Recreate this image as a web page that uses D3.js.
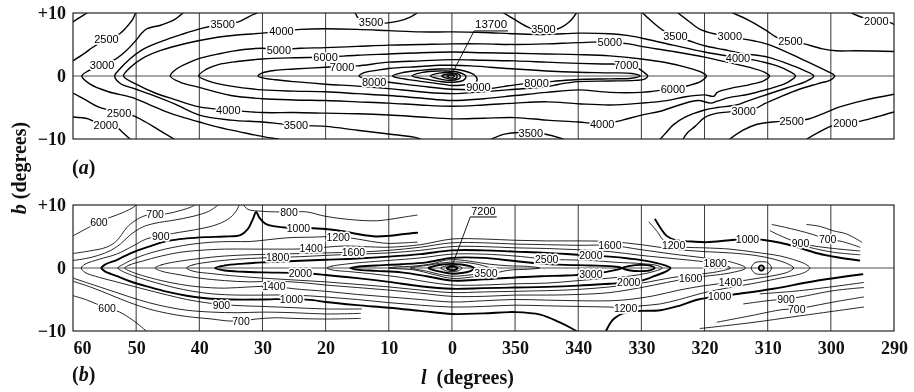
<!DOCTYPE html>
<html>
<head>
<meta charset="utf-8">
<script src="https://cdn.jsdelivr.net/npm/d3@7"></script>
<style>
  body { margin: 0; background: #fff; }
  svg { display: block; background: #fff; filter: grayscale(100%); }
  .axis text { font-family: "Liberation Serif", "DejaVu Serif", serif; font-weight: bold; font-size: 18px; fill: #111; }
  .clabel { font-family: "Liberation Sans", Arial, sans-serif; fill: #000; }
  .halo { font-family: "Liberation Sans", Arial, sans-serif; fill: #fff; stroke: #fff; stroke-width: 3.5px; stroke-linejoin: round; }
  .title { font-family: "Liberation Serif", "DejaVu Serif", serif; font-weight: bold; font-size: 20px; fill: #111; }
</style>
</head>
<body>
<svg id="chart" width="914" height="392"></svg>
<script>
const lonTicks = [60, 50, 40, 30, 20, 10, 0, 350, 340, 330, 320, 310, 300, 290];
const latTicks = [10, 0, -10];

// contour lines as [l, b] in degrees; longitudes past 0 are written as l - 360 (350 -> -10)
// (a) continuum brightness
const contoursA = [
  { level: 2000, pts: [[60,8.6],[58.9,9.3],[57.8,10]] },
  { level: 2000, pts: [[60,-6.5],[57.6,-6.8],[56.5,-7.3],[54.8,-7.8],[53,-8.2],[52.3,-8.8],[51.2,-9.8],[51,-10]] },
  { level: 2000, pts: [[-63.3,10],[-65,9.3],[-67.2,8.8],[-69.3,8.5],[-70,8.2]] },
  { level: 2000, pts: [[-56.2,-10],[-58.7,-8.6],[-60.5,-7.8],[-62.3,-7.5],[-64.5,-7.2],[-67.2,-6.5],[-70,-5.7]] },
  { level: 2500, pts: [[60,2.4],[58.3,3.5],[56.8,4.6],[54.7,5.8],[52.6,6.7],[51.5,7.8],[50.6,8.9],[50.1,10]] },
  { level: 2500, pts: [[60,-2.7],[58,-3.8],[56,-4.9],[52.7,-5.8],[50.5,-6.3],[48.5,-7.3],[46.5,-8.5],[44,-10]] },
  { level: 2500, pts: [[-44.5,10],[-47.1,8.8],[-49.8,7.2],[-51.5,6.1],[-53.6,5.6],[-55.8,5.1],[-58.7,4.3],[-60.8,4.0],[-64,4.0],[-70,3.9]] },
  { level: 2500, pts: [[-44,-10],[-46.1,-8.6],[-48.2,-7.7],[-50.8,-7.3],[-53.8,-7.1],[-56.1,-6.9],[-58.7,-6.0],[-61.4,-4.9],[-65.1,-3.9],[-70,-2.9]] },
  { level: 3000, pts: [[42.6,10],[44,8.9],[46,8.1],[48.3,7.5],[49.2,6.7],[50,5.7],[51.5,4.1],[53.4,2.6],[55.4,1.8],[57.6,0.8],[58.6,0],[57.3,-1.3],[54.4,-2.5],[50.7,-3.4],[48,-4.5],[45.4,-5.6],[42.8,-6.5],[40,-7.3],[37.5,-8.0],[34.9,-8.6],[32,-9.2],[29.5,-9.7],[27.5,-10]] },
  { level: 3000, pts: [[-35.8,10],[-37.5,8.7],[-39.3,7.4],[-41.5,6.7],[-44,6.3],[-46.1,5.9],[-49.8,5.1],[-53,3.8],[-56,2.4],[-58.5,1.2],[-60.3,0.3],[-60.6,0],[-60,-0.6],[-58,-1.2],[-55,-2.1],[-52,-3.3],[-49.5,-4.4],[-48,-5.2],[-46.2,-5.6],[-44,-5.7],[-42,-5.9],[-40,-6.6],[-38.5,-8.0],[-37.3,-9.0],[-36.6,-10]] },
  { level: 3500, pts: [[30.9,10],[32.2,9.4],[33.8,8.6],[36.3,8.3],[39.5,7.6],[42.8,6.6],[46,5.5],[49,4.2],[51,2.7],[52.6,1.1],[53.4,0],[52.5,-1.2],[50,-2.1],[47,-3.2],[44,-4.4],[40,-6.2],[35,-7.0],[30,-7.3],[27,-7.6],[24.7,-7.8],[20,-8.0],[15,-8.6],[10,-9.2],[6,-9.7],[5,-10]] },
  { level: 3500, pts: [[15.3,10],[14.8,9.2],[12.8,8.6],[10.5,8.4],[8.5,8.7],[6.5,9.4],[5.5,10]] },
  { level: 3500, pts: [[-8.2,10],[-9.7,9.1],[-12.4,7.6],[-14.5,7.4],[-16.8,7.5],[-18.6,8.6],[-19.7,10]] },
  { level: 3500, pts: [[-6.3,-10],[-8,-9.3],[-10,-9.0],[-12.5,-9.0],[-14.7,-9.2],[-17.6,-10]] },
  { level: 3500, pts: [[-30.2,10],[-31.5,8.8],[-33.5,7.2],[-35.4,6.3],[-37.5,5.6],[-40,4.8],[-43,4.2],[-46,3.6],[-50,3.0],[-53,2.0],[-55.5,1.0],[-57.3,0],[-56,-0.9],[-53,-1.9],[-50,-2.9],[-47,-3.9],[-45,-4.6],[-42,-5.0],[-40,-5.4],[-37,-6.5],[-35,-7.8],[-34,-8.9],[-33,-10]] },
  { level: 4000, pts: [[52,0],[51,1.3],[49,2.8],[46,4.1],[42,5.2],[38,6.0],[34,6.5],[30,6.8],[27,7.1],[24,7.4],[20,7.5],[15,7.4],[10,7.2],[5,7.0],[0,7.0],[-5,6.9],[-10,6.7],[-15,6.6],[-20,6.8],[-25,6.7],[-28,6.4],[-31,5.8],[-35,4.9],[-40,3.8],[-45.3,2.9],[-48.5,2.4],[-51.5,1.6],[-53.5,0.7],[-54.4,0],[-53.5,-0.8],[-52,-1.5],[-50,-2.1],[-47,-2.9],[-44,-3.4],[-42,-4.0],[-41,-4.3],[-39,-3.9],[-36,-4.6],[-33,-5.6],[-30,-6.2],[-27,-7.0],[-23.8,-7.6],[-20,-7.3],[-15,-7.0],[-10,-6.6],[-5,-6.7],[0,-6.8],[5,-6.5],[10,-6.2],[15,-6.0],[20,-5.9],[25,-5.8],[30,-5.8],[35.4,-5.4],[40,-4.9],[44,-3.7],[47,-2.7],[50,-1.3],[52,0]] },
  { level: 5000, pts: [[44.6,0],[43.5,1.2],[41.5,2.2],[40,2.8],[37,3.5],[33,4.2],[30,4.4],[27.4,4.2],[24,4.4],[20,4.5],[15,4.7],[10,4.9],[5,5.0],[0,5.1],[-5,5.1],[-10,5.0],[-15,5.1],[-20,5.3],[-25,5.4],[-28,5.1],[-30,4.7],[-35,3.9],[-40,3.0],[-44,2.1],[-47,1.4],[-49.5,0.6],[-50.3,0],[-49.5,-0.7],[-47,-1.4],[-44,-2.0],[-42,-2.6],[-41.5,-3.2],[-40,-3.0],[-37,-3.3],[-34,-3.9],[-30,-4.3],[-25,-4.6],[-20,-4.4],[-15,-4.1],[-10,-4.3],[-5,-4.6],[0,-4.8],[5,-4.6],[10,-4.3],[15,-4.1],[20,-3.9],[25,-3.8],[30,-3.6],[35,-3.1],[40,-1.8],[43,-1.0],[44.6,0]] },
  { level: 6000, pts: [[40.1,0],[39,1.0],[37,1.8],[34,2.3],[30,2.7],[25,2.9],[20,3.0],[15,3.3],[10,3.5],[5,3.7],[0,3.8],[-5,3.7],[-10,3.6],[-15,3.5],[-20,3.4],[-25,3.2],[-30,2.7],[-34,2.1],[-37,1.4],[-39.5,0.6],[-40.3,0],[-39.5,-0.8],[-37.5,-1.5],[-35,-2.0],[-32,-2.4],[-30,-2.6],[-25,-2.6],[-20,-2.2],[-15,-2.6],[-10,-3.1],[-5,-3.6],[0,-3.9],[5,-3.5],[10,-3.1],[15,-2.8],[20,-2.5],[25,-2.4],[30,-2.2],[35,-1.6],[38.5,-0.8],[40.1,0]] },
  { level: 7000, pts: [[30.7,0],[30,0.5],[28,0.9],[25,1.1],[20,1.4],[17.4,1.5],[15,1.6],[10,2.2],[5,2.4],[0,2.6],[-5,2.5],[-10,2.4],[-15,2.2],[-20,2.0],[-24,1.9],[-27.6,1.8],[-29.5,1.2],[-30.5,0.5],[-31,0],[-30.5,-0.5],[-29,-0.7],[-25,-0.8],[-20,-0.9],[-17,-1.3],[-15,-1.7],[-10,-2.1],[-5,-2.5],[0,-2.8],[5,-2.5],[10,-2.0],[15,-1.6],[20,-1.3],[25,-0.9],[28,-0.6],[30,-0.3],[30.7,0]] },
  { level: 8000, pts: [[14.7,0],[14,0.5],[12,0.9],[10,1.2],[5,1.5],[2,1.7],[0,1.7],[-3,1.6],[-6,1.4],[-10,1.1],[-15,0.8],[-20,0.6],[-25,0.5],[-28.5,0.4],[-29.8,0],[-28.5,-0.35],[-25,-0.45],[-20,-0.55],[-16,-0.85],[-13.4,-1.05],[-10,-1.4],[-5,-2.1],[0,-2.1],[5,-1.6],[10,-1.0],[12.3,-0.8],[14,-0.4],[14.7,0]] },
  { level: 9000, pts: [[9.4,0],[8,0.5],[5,0.9],[2,1.1],[0,1.1],[-2,0.8],[-3.5,0.2],[-4,-0.5],[-3.5,-1.2],[-2,-1.4],[0,-1.5],[3,-1.1],[6,-0.7],[8.5,-0.3],[9.4,0]] },
  { level: 10000, pts: [[6.3,0],[5,0.5],[3,0.75],[1,0.8],[-1,0.6],[-2.2,0],[-1.8,-0.7],[0,-1.0],[2,-0.85],[4,-0.5],[6.3,0]] },
  { level: 11000, pts: [[3.4,0],[2,0.45],[0,0.5],[-1.2,0.2],[-1.3,-0.3],[0,-0.7],[2,-0.45],[3.4,0]] },
  { level: 12000, pts: [[1.6,0],[0.5,0.32],[-0.7,0.2],[-0.8,-0.25],[0,-0.5],[1,-0.3],[1.6,0]] },
  { level: 13000, pts: [[0.8,-0.05],[0.1,0.15],[-0.4,0],[0,-0.3],[0.8,-0.05]] }
];
const labelsA = [
  ["2500",54.7,5.8],["3000",55.4,1.8],["2500",52.7,-5.8],["2000",54.8,-7.8],
  ["3500",36.3,8.3],["4000",27,7.1],["5000",27.4,4.2],["6000",20,3.0],["7000",17.4,1.5],
  ["4000",35.4,-5.4],["3500",24.7,-7.8],["8000",12.3,-0.9],["3500",12.8,8.6],
  ["9000",-4.2,-1.7],["8000",-13.4,-1.05],["3500",-14.5,7.4],["3500",-12.5,-9.1],
  ["5000",-25,5.4],["7000",-27.6,1.8],["6000",-35,-2.0],["4000",-23.8,-7.6],
  ["3500",-35.4,6.3],["3000",-44,6.3],["4000",-45.3,2.9],["3000",-46.2,-5.6],
  ["2500",-53.6,5.6],["2500",-53.8,-7.1],["2000",-67.2,8.8],["2000",-62.3,-7.5]
];
const peakA = ["13700", -6.2, 8.2];

// (b) line brightness
const contoursB = [
  { level: 600, pts: [[60,5.1],[57.6,6.4],[55.9,7.3],[54.2,8.0],[52.1,8.8],[50.5,9.6],[50,10]] },
  { level: 600, pts: [[60,-4.4],[58,-5.0],[56.3,-5.7],[54.6,-6.3],[52.6,-7.0],[50.5,-8.3],[48.4,-10]] },
  { level: 700, pts: [[60,2.3],[57.4,2.7],[54.7,3.3],[53.1,4.3],[51.5,6.4],[50.2,7.5],[48.6,8.3],[47,8.5],[45.2,8.6],[43.1,9.1],[41.5,9.6],[40.7,10]] },
  { level: 700, pts: [[60,-2.1],[57,-3.1],[54,-4.3],[51,-5.5],[48,-6.5],[45,-7.2],[42,-7.7],[38,-8.1],[35.5,-8.4],[33.4,-8.4],[31,-8.1],[28,-7.9],[25,-8.0],[20,-8.1],[14.5,-8.0]] },
  { level: 800, pts: [[60,1.2],[58,1.5],[56,2.0],[54,2.8],[52.5,3.8],[51,5.2],[49,6.5],[47,7.1],[44,7.6],[41,8.2],[38.5,9.0],[37,10]] },
  { level: 800, pts: [[60,-1.6],[57,-2.6],[54,-3.6],[51,-4.6],[48,-5.5],[45,-6.2],[42,-6.7],[38,-7.0],[34,-7.1],[30,-7.0],[25,-7.1],[20,-7.3],[14.5,-7.2]] },
  { level: 800, pts: [[33,10],[32.3,9.3],[30,9.0],[27.5,8.9],[25.8,8.9],[23,8.9],[20,8.2],[15.1,7.6],[11.9,7.5],[10,7.7],[7.5,8.1],[5.5,8.4]] },
  { level: 900, pts: [[33.7,10],[34,9.3],[35.1,8.0],[37.2,6.9],[40,6.2],[44.1,5.5],[46.1,5.1],[48.4,4.6],[50.5,3.5],[53.1,2.2],[55.8,1.4],[58.1,0.6],[58.7,0],[58.1,-0.7],[55.8,-1.5],[53.1,-2.2],[50.5,-2.9],[47.8,-3.6],[45,-4.3],[42,-5.0],[39,-5.5],[36.5,-5.8],[33,-6.0],[30,-6.1],[25,-6.3],[20,-6.5],[14.3,-6.5]] },
  { level: 1000, pts: [[5.5,5.6],[7.5,5.4],[10,5.1],[12,5.0],[15,5.4],[17,5.8],[20,6.2],[22,6.3],[24.3,6.4],[26,6.4],[28,6.6],[29.5,7.0],[30.5,8.0],[31,8.9],[31.5,7.8],[32.3,6.2],[33.5,5.2],[36,5.0],[39,4.9],[42,4.7],[45,4.3],[48,3.4],[51,2.3],[53,1.3],[55,0.5],[55.5,0],[55,-0.5],[53,-1.3],[51,-2.1],[48,-3.0],[45,-3.8],[42,-4.4],[39,-4.8],[35,-5.0],[30,-5.0],[25.4,-4.9],[22,-5.1],[20,-5.4],[15,-5.9],[10,-6.3],[5,-6.8],[0,-7.3],[-5,-7.2],[-10,-7.0],[-14,-7.4],[-17,-8.6],[-19,-9.6],[-19.7,-10]] },
  { level: 1000, pts: [[-32.2,7.7],[-33,6.4],[-34,5.1],[-35.5,4.4],[-38,4.2],[-40.4,4.1],[-44,4.4],[-46.8,4.6],[-49,4.5],[-52,4.0],[-55,3.2],[-58,2.3],[-61,1.7],[-64.5,1.2]] },
  { level: 1000, pts: [[-24.4,-10],[-25.6,-8.1],[-27.7,-7.0],[-30,-6.8],[-33,-6.7],[-36,-6.0],[-39,-5.0],[-42.4,-4.5],[-44.6,-4.2],[-50.9,-3.3],[-57.3,-2.1],[-65,-1.0]] },
  { level: 1200, pts: [[5.5,4.1],[7.5,4.0],[10,3.9],[12,4.1],[15,4.6],[18,5.0],[22,4.9],[26,4.8],[29,4.5],[32,4.2],[35,4.2],[38,4.1],[41,3.8],[44,3.3],[47,2.6],[50,1.6],[52,0.6],[52.9,0],[52,-0.6],[50,-1.4],[47,-2.3],[44,-3.1],[41,-3.7],[38,-4.1],[34,-4.3],[30,-4.3],[25,-4.3],[20,-4.6],[15,-5.0],[10,-5.5],[5,-5.9],[0,-6.2],[-5,-6.1],[-10,-5.9],[-15,-6.0],[-20,-6.1],[-25,-6.2],[-27.5,-6.3],[-30,-6.0],[-33,-5.7],[-36,-5.0],[-40,-3.9],[-44,-3.1],[-48,-2.4],[-52,-1.6],[-55,-1.0],[-56.2,-0.5],[-56.7,0],[-56,0.6],[-54.5,1.2],[-52,1.9],[-48,2.5],[-44,3.0],[-40,3.2],[-37,3.3],[-35,3.6],[-33.5,4.4],[-32.5,5.8],[-31.2,7.3]] },
  { level: 1400, pts: [[51.8,0],[51,0.5],[49,1.1],[46,1.9],[43,2.5],[40,2.8],[36,3.0],[32,3.0],[28,3.0],[25,3.0],[22.3,3.1],[20,3.3],[17,3.5],[14,3.4],[10,3.3],[5,3.7],[0,4.6],[-5,4.6],[-10,4.4],[-15,4.3],[-20,4.3],[-25,4.2],[-30,3.7],[-35,3.0],[-40,2.6],[-44,2.4],[-48,2.0],[-51,1.4],[-53.3,0.6],[-54.1,0],[-53.3,-0.6],[-51,-1.2],[-48,-1.7],[-44.1,-2.3],[-40,-2.8],[-36,-3.5],[-32,-4.4],[-28,-5.0],[-25,-5.2],[-20,-5.2],[-15,-5.1],[-10,-5.0],[-5,-5.2],[0,-5.4],[5,-5.0],[10,-4.6],[15,-4.2],[20,-3.7],[25,-3.3],[28.2,-2.9],[32,-3.0],[36,-3.2],[40,-3.0],[43,-2.6],[46,-2.0],[49,-1.2],[51,-0.5],[51.8,0]] },
  { level: 1600, pts: [[47,0],[46,0.5],[43,1.1],[40,1.5],[36,1.9],[32,2.1],[28,2.2],[24,2.3],[20,2.4],[15.6,2.5],[10,2.8],[5,3.3],[0,4.0],[-5,4.0],[-10,3.8],[-15,3.7],[-20,3.6],[-25,3.6],[-30,2.9],[-35,2.2],[-40,1.6],[-44,1.0],[-46.5,0],[-44,-0.8],[-41,-1.2],[-37.8,-1.6],[-34,-2.3],[-30,-3.1],[-25,-3.9],[-20,-4.2],[-15,-4.3],[-10,-4.3],[-5,-4.5],[0,-4.5],[5,-4.0],[10,-3.5],[15,-3.1],[20,-2.7],[24,-2.3],[28,-2.1],[32,-2.2],[36,-2.0],[40,-1.6],[43,-1.1],[46,-0.5],[47,0]] },
  { level: 1800, pts: [[42,0],[41,0.5],[38,1.0],[34,1.4],[30,1.6],[27.6,1.7],[24,1.8],[20,2.0],[15,2.2],[10,2.4],[5,2.8],[0,3.4],[-5,3.4],[-10,3.2],[-15,3.1],[-20,2.9],[-25,2.6],[-30,2.0],[-35,1.5],[-39,1.1],[-41.7,0.75],[-43.5,0.35],[-44.1,0],[-42,-0.6],[-39,-1.0],[-35,-1.5],[-30,-2.4],[-25,-3.0],[-20,-3.4],[-15,-3.6],[-10,-3.7],[-5,-3.8],[0,-3.9],[5,-3.5],[10,-3.0],[15,-2.6],[20,-2.2],[25,-1.9],[30,-1.6],[34,-1.3],[38,-0.9],[41,-0.5],[42,0]] },
  { level: 2000, pts: [[37.5,0],[36,0.4],[33,0.7],[30,0.9],[25,1.1],[20,1.3],[15,1.5],[10,1.8],[5,2.2],[0,2.8],[-5,2.8],[-10,2.6],[-15,2.4],[-20,2.1],[-22,2.0],[-25,1.8],[-28,1.5],[-31,1.1],[-33.5,0.5],[-34.6,0],[-34,-0.5],[-32,-1.3],[-30,-2.0],[-28,-2.3],[-25,-2.5],[-20,-2.8],[-15,-3.0],[-10,-3.1],[-5,-3.2],[0,-3.3],[5,-2.9],[10,-2.2],[15,-1.6],[20,-1.1],[24,-0.8],[30,-0.7],[33,-0.6],[36,-0.4],[37.5,0]] },
  { level: 2500, pts: [[19.8,0],[19,0.3],[17,0.6],[14,0.9],[10,1.2],[5,1.6],[0,2.2],[-5,2.2],[-10,1.9],[-13,1.6],[-15,1.4],[-18,1.3],[-22,1.2],[-26,0.9],[-30,0.7],[-32.5,0.4],[-33.3,0],[-31,-0.8],[-28,-1.3],[-25,-1.6],[-20,-2.0],[-15,-2.4],[-10,-2.5],[-5,-2.7],[0,-2.7],[4,-2.2],[8,-1.5],[12,-1.0],[16,-0.6],[19,-0.3],[19.8,0]] },
  { level: 3000, pts: [[16.1,0],[15,0.2],[12,0.4],[8,0.6],[4,0.9],[0,1.6],[-5,1.6],[-10,1.1],[-14,0.7],[-18,0.5],[-22,0.4],[-26,0.2],[-27,0],[-26,-0.3],[-22,-1.0],[-18,-1.2],[-14,-1.3],[-10,-1.5],[-5,-1.8],[0,-2.0],[4,-1.3],[8,-0.7],[12,-0.45],[15,-0.25],[16.1,0]] },
  { level: 3000, pts: [[-27,0],[-28,0.3],[-30,0.5],[-31.5,0.35],[-32.1,0],[-31.5,-0.35],[-30,-0.5],[-28,-0.35],[-27,0]] },
  { level: 3500, pts: [[10,0],[9,0.15],[6,0.3],[3,0.7],[1,1.25],[-1,1.3],[-3,1.05],[-6,0.6],[-9,0.35],[-12,0.25],[-13.9,0],[-12,-0.2],[-9,-0.35],[-6,-1.0],[-3,-1.45],[0,-1.65],[3,-1.0],[6,-0.3],[9,-0.1],[10,0]] },
  { level: 4000, pts: [[6.6,0],[6,0.15],[4,0.4],[2,0.75],[0,0.95],[-2,0.9],[-4,0.6],[-5.5,0.2],[-6,0],[-5.5,-0.4],[-4,-0.9],[-2,-1.2],[0,-1.3],[2,-1.0],[4,-0.5],[6,-0.15],[6.6,0]] },
  { level: 5000, pts: [[3.7,0],[3,0.25],[1.5,0.55],[0,0.65],[-1.5,0.55],[-3,0.25],[-3.5,0],[-3,-0.45],[-1.5,-0.8],[0,-0.9],[1.5,-0.65],[3,-0.3],[3.7,0]] },
  { level: 6000, pts: [[1.8,0],[1,0.3],[0,0.4],[-1,0.3],[-1.6,0],[-1,-0.45],[0,-0.6],[1,-0.4],[1.8,0]] },
  { level: 7000, pts: [[0.8,0],[0.3,0.2],[-0.5,0.18],[-0.9,0],[-0.5,-0.3],[0.3,-0.3],[0.8,0]] },
  // source near l = 311
  { level: 2000, pts: [[-48.6,0],[-48.8,0.35],[-49.2,0.35],[-49.4,0],[-49.2,-0.35],[-48.8,-0.35],[-48.6,0]] },
  { level: 1800, pts: [[-47.4,0],[-48,0.85],[-49,1.0],[-50,0.85],[-50.6,0],[-50,-0.85],[-49,-1.0],[-48,-0.85],[-47.4,0]] },
  // open lines on the south-galactic side
  { level: 600, pts: [[-56.2,6.9],[-58.3,6.6],[-60.4,5.9],[-62.5,5.4],[-64.9,4.1]] },
  { level: 700, pts: [[-50.7,6.9],[-53,6.4],[-56.2,5.6],[-59.5,4.6],[-61.8,4.2],[-64.6,3.3]] },
  { level: 900, pts: [[-50.4,5.9],[-52.5,4.9],[-55.2,3.9],[-57.3,3.5],[-60.4,3.1],[-64.6,2.7]] },
  { level: 800, pts: [[-54,4.0],[-56.5,3.3],[-60.4,2.5],[-64.6,2.1]] },
  { level: 600, pts: [[-39.3,-9.6],[-47.2,-8.7],[-55.1,-7.6],[-65.2,-6.2]] },
  { level: 700, pts: [[-42,-8.6],[-47.2,-7.6],[-52.4,-6.6],[-54.6,-6.5],[-57.3,-6.0],[-61,-5.3],[-65.2,-4.6]] },
  { level: 900, pts: [[-46.2,-5.7],[-49.9,-5.2],[-52.9,-4.9],[-55.1,-4.6],[-60.4,-3.6],[-65.2,-3.1]] },
  { level: 800, pts: [[-48.8,-4.1],[-55.1,-3.6],[-65.2,-2.3]] }
];
const labelsB = [
  ["600",55.9,7.3],["700",47,8.5],["900",46.1,5.1],["800",25.8,8.9],["1000",24.3,6.4],
  ["1200",18,5.0],["1400",22.3,3.1],["1600",15.6,2.5],["1800",27.6,1.7],["2000",24,-0.8],
  ["1400",28.2,-2.9],["1000",25.4,-4.9],["900",36.5,-5.8],["700",33.4,-8.4],["600",54.6,-6.3],
  ["3500",-5.4,-0.8],["2500",-15,1.4],["2000",-22,2.0],["1600",-25,3.6],["3000",-22,-1.0],
  ["2000",-28,-2.3],["1200",-27.5,-6.3],["1200",-35.1,3.6],["1800",-41.7,0.75],["1600",-37.8,-1.6],
  ["1400",-44.1,-2.3],["1000",-42.4,-4.5],["1000",-46.8,4.6],["900",-55.2,3.9],["700",-59.5,4.6],
  ["900",-52.9,-4.9],["700",-54.6,-6.5]
];
const peakB = ["7200", -5.0, 9.1];
const thickB = [1000, 2000, 3000, 5000, 7000];

const svg = d3.select("#chart");
const x = d3.scaleLinear().domain([60, -70]).range([73, 894]);
const cont = l => (l > 180 ? l - 360 : l);
const fmtLat = d => d > 0 ? "+" + d : d < 0 ? "\u2212" + Math.abs(d) : "0";

function drawPanel(top, bottom, contours, labels, peak, widthOf, fontSize, id) {
  const y = d3.scaleLinear().domain([-10, 10]).range([bottom, top]);
  const g = svg.append("g");
  const x0 = x(60), x1 = x(-70);

  g.append("clipPath").attr("id", id)
    .append("rect").attr("x", x0).attr("y", top).attr("width", x1 - x0).attr("height", bottom - top);

  // grid: every 10 degrees of longitude and the galactic plane
  g.append("g").selectAll("line").data(lonTicks.slice(1, -1)).join("line")
    .attr("x1", d => x(cont(d))).attr("x2", d => x(cont(d)))
    .attr("y1", top).attr("y2", bottom)
    .attr("stroke", "#222").attr("stroke-width", 0.9);
  g.append("line").attr("x1", x0).attr("x2", x1).attr("y1", y(0)).attr("y2", y(0))
    .attr("stroke", "#222").attr("stroke-width", 0.8);

  const open = d3.line().x(d => x(d[0])).y(d => y(d[1])).curve(d3.curveCatmullRom.alpha(0.5));
  const shut = d3.line().x(d => x(d[0])).y(d => y(d[1])).curve(d3.curveCatmullRomClosed.alpha(0.5));

  g.append("g").attr("clip-path", `url(#${id})`)
    .selectAll("path").data(contours).join("path")
    .attr("d", c => {
      const p = c.pts, n = p.length;
      const closed = n > 2 && p[0][0] === p[n - 1][0] && p[0][1] === p[n - 1][1];
      return closed ? shut(p.slice(0, -1)) : open(p);
    })
    .attr("fill", "none").attr("stroke", "#000")
    .attr("stroke-width", c => widthOf(c.level))
    .attr("stroke-linejoin", "round").attr("stroke-linecap", "round");

  // peak value, underlined, with a leader to the centre
  const pt = g.append("text").attr("class", "clabel")
    .attr("x", x(peak[1])).attr("y", y(peak[2]))
    .attr("text-anchor", "middle").attr("dominant-baseline", "central")
    .attr("font-size", fontSize + 0.5).text(peak[0]);
  const w = pt.node().getComputedTextLength();
  const uy = y(peak[2]) + fontSize * 0.6;
  g.append("line").attr("x1", x(peak[1]) - w / 2 - 1).attr("x2", x(peak[1]) + w / 2 + 1)
    .attr("y1", uy).attr("y2", uy).attr("stroke", "#000").attr("stroke-width", 1);
  g.append("line").attr("x1", x(peak[1]) - w / 2 - 1).attr("y1", uy)
    .attr("x2", x(0)).attr("y2", y(0.3)).attr("stroke", "#000").attr("stroke-width", 0.9);

  // contour values: white knock-out first, then the digits
  const lab = g.append("g");
  lab.selectAll("text.halo").data(labels).join("text").attr("class", "halo")
    .attr("x", d => x(d[1])).attr("y", d => y(d[2]))
    .attr("text-anchor", "middle").attr("dominant-baseline", "central")
    .attr("font-size", fontSize).text(d => d[0]);
  lab.selectAll("text.clabel").data(labels).join("text").attr("class", "clabel")
    .attr("x", d => x(d[1])).attr("y", d => y(d[2]))
    .attr("text-anchor", "middle").attr("dominant-baseline", "central")
    .attr("font-size", fontSize).text(d => d[0]);

  g.append("rect").attr("x", x0).attr("y", top).attr("width", x1 - x0).attr("height", bottom - top)
    .attr("fill", "none").attr("stroke", "#222").attr("stroke-width", 1.2);

  g.append("g").attr("class", "axis").attr("transform", `translate(${x0},0)`)
    .call(d3.axisLeft(y).tickValues(latTicks).tickSize(0).tickPadding(7).tickFormat(fmtLat))
    .call(a => a.select(".domain").remove());
  return y;
}

drawPanel(13, 139, contoursA, labelsA, peakA, () => 1.4, 11, "clipA");
drawPanel(205, 331, contoursB, labelsB, peakB, lv => thickB.includes(lv) ? 1.9 : 0.85, 10.5, "clipB");

// longitude axis under panel (b)
const xAxis = svg.append("g").attr("class", "axis").attr("transform", "translate(0,331)")
  .call(d3.axisBottom(x).tickValues(lonTicks.map(cont)).tickSize(0).tickPadding(10)
    .tickFormat(d => d < 0 ? d + 360 : d))
  .call(a => a.select(".domain").remove());
xAxis.selectAll(".tick text").filter(d => d === 60).attr("text-anchor", "start");

// panel letters and axis titles
const ta = svg.append("text").attr("class", "title").attr("x", 72).attr("y", 174);
ta.append("tspan").text("(");
ta.append("tspan").attr("font-style", "italic").text("a");
ta.append("tspan").text(")");
const tb = svg.append("text").attr("class", "title").attr("x", 72).attr("y", 381);
tb.append("tspan").text("(");
tb.append("tspan").attr("font-style", "italic").text("b");
tb.append("tspan").text(")");

const tl = svg.append("text").attr("class", "title").attr("x", 421).attr("y", 384);
tl.append("tspan").attr("font-style", "italic").text("l");
tl.append("tspan").text("\u2002(degrees)");

const tv = svg.append("text").attr("class", "title").attr("text-anchor", "middle")
  .attr("transform", "translate(26,168) rotate(-90)");
tv.append("tspan").attr("font-style", "italic").text("b");
tv.append("tspan").text(" (degrees)");
</script>
</body>
</html>
